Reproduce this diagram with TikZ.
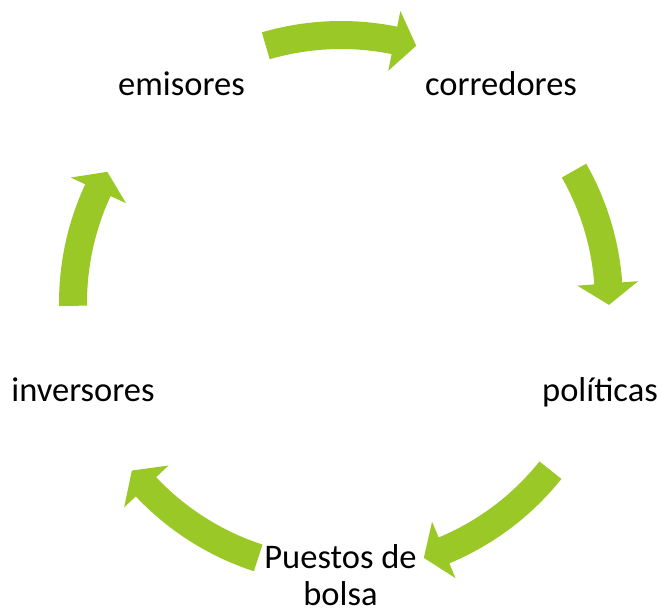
\documentclass[tikz,border=0pt]{standalone}
\usepackage{fontspec}
\setmainfont{Carlito}
\definecolor{cyclegreen}{RGB}{154,200,38}
\tikzset{
  lbl/.style={anchor=base, inner sep=0pt, font=\fontsize{34.5}{37}\selectfont, text=black},
  cyclearrow/.style={fill=cyclegreen, draw=none}
}
% #1 tail angle, #2 tip angle, #3 head base angle
\newcommand{\cyclearrowpath}[3]{%
  \fill[cyclearrow] (#1:282pt) arc[start angle=#1, end angle=#3, radius=282pt]
    -- (#3:298pt) -- (#2:268pt) -- (#3:237pt) -- (#3:254pt)
    arc[start angle=#3, end angle=#1, radius=254pt] -- cycle;}
\begin{document}
\begin{tikzpicture}[x=1pt,y=-1pt]
\useasboundingbox (0,0) rectangle (661,612);
\fill[white] (0,0) rectangle (661,612);
\begin{scope}[shift={(341,303)}]
  \cyclearrowpath{106.3}{73.7}{78.5}
  \cyclearrowpath{29.6}{-0.4}{4.2}
  \cyclearrowpath{-38.6}{-72}{-67.4}
  \cyclearrowpath{-108}{-141.3}{-136.7}
  \cyclearrowpath{180.6}{150.7}{155.1}
\end{scope}
\node[lbl] (emisores) at (181.5,96) {emisores};
\node[lbl] (corredores) at (501,96) {corredores};
\node[lbl] (politicas) at (600,401) {políticas};
\node[lbl] (inversores) at (83,401) {inversores};
\node[lbl, align=center] (puestos) at (340.5,605) {Puestos de\\bolsa};
\end{tikzpicture}
\end{document}
